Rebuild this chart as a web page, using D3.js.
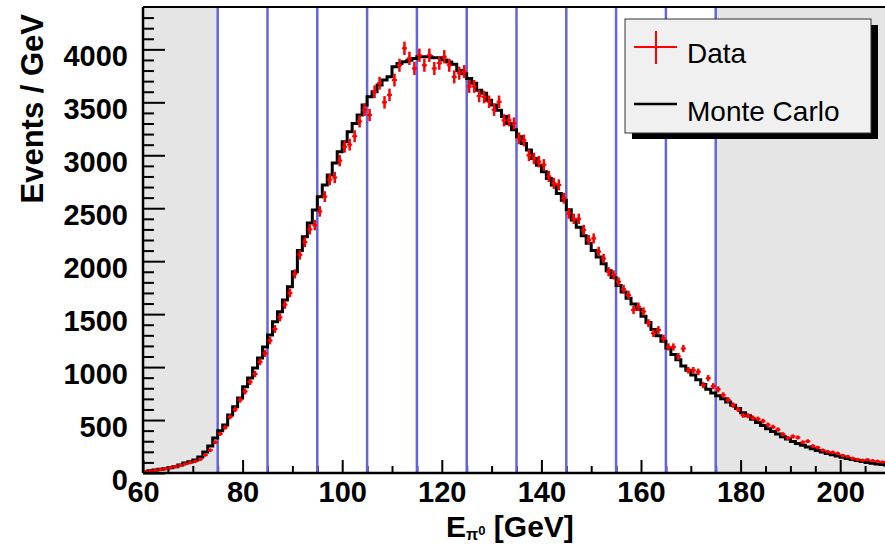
<!DOCTYPE html>
<html>
<head>
<meta charset="utf-8">
<script src="https://cdn.jsdelivr.net/npm/d3@7"></script>
<style>
  body { margin: 0; background: #fff; }
  text { font-family: "Liberation Sans", Arial, Helvetica, sans-serif; }
  .tickLabel { font-weight: bold; font-size: 29px; fill: #000; }
</style>
</head>
<body>
<div id="chart"></div>
<script>
// 1 GeV bins, first bin starts at 60 GeV
var binStart = 60;

// Monte Carlo histogram (events / GeV)
var mcValues = [
  15, 22, 28, 35, 41, 50, 60, 75, 94, 107,
  123, 151, 198, 255, 330, 400, 453, 547, 626, 708,
  815, 897, 991, 1085, 1189, 1303, 1428, 1523, 1633, 1759,
  1900, 2100, 2230, 2360, 2483, 2608, 2719, 2813, 2926, 3033,
  3127, 3222, 3301, 3380, 3474, 3552, 3600, 3663, 3710, 3741,
  3835, 3867, 3882, 3898, 3914, 3930, 3930, 3930, 3920, 3920,
  3900, 3880, 3860, 3800, 3770, 3725, 3680, 3615, 3585, 3520,
  3475, 3425, 3365, 3300, 3240, 3175, 3110, 3050, 2970, 2905,
  2845, 2780, 2720, 2640, 2575, 2485, 2390, 2320, 2240, 2170,
  2100, 2040, 1975, 1910, 1845, 1770, 1710, 1650, 1595, 1545,
  1480, 1420, 1355, 1295, 1245, 1180, 1120, 1070, 1010, 970,
  925, 880, 835, 790, 755, 730, 700, 670, 640, 610,
  570, 540, 508, 478, 448, 418, 393, 368, 343, 320,
  298, 278, 261, 245, 229, 213, 198, 184, 172, 160,
  149, 137, 127, 117, 108, 100, 93, 86, 80, 74
];

// measured data (events / GeV)
var dataValues = [
  12, 18, 25, 33, 40, 50, 60, 72, 85, 98,
  110, 130, 170, 215, 290, 370, 430, 530, 600, 690,
  770, 860, 935, 1050, 1130, 1250, 1360, 1470, 1590, 1700,
  1880, 2060, 2180, 2300, 2340, 2470, 2610, 2770, 2790, 2950,
  3080, 3100, 3180, 3320, 3430, 3380, 3600, 3680, 3500, 3570,
  3710, 3850, 4010, 3915, 3820, 3945, 3850, 3945, 3820, 3870,
  3930, 3850, 3740, 3775, 3790, 3650, 3650, 3560, 3550, 3505,
  3430, 3505, 3330, 3330, 3300, 3160, 3140, 3000, 2970, 2940,
  2910, 2800, 2735, 2720, 2595, 2450, 2400, 2400, 2295, 2200,
  2215, 2090, 2025, 1900, 1870, 1805, 1735, 1680, 1540, 1570,
  1525, 1415, 1320, 1350, 1270, 1190, 1190, 1100, 1175, 970,
  970, 955, 830, 895, 820, 790, 735, 690, 640, 600,
  545, 540, 520, 510, 490, 455, 435, 410, 365, 330,
  345, 335, 290, 300, 255, 240, 215, 200, 195, 185,
  165, 155, 138, 128, 120, 124, 115, 110, 104, 98
];

// vertical marker lines and shaded side bands (GeV)
var cutLines = [75, 85, 95, 105, 115, 125, 135, 145, 155, 165, 175];
var shadedBands = [[60, 75], [175, 210]];

var xTicks = [60, 80, 100, 120, 140, 160, 180, 200];
var yTicks = [0, 500, 1000, 1500, 2000, 2500, 3000, 3500, 4000];

var svgWidth = 885;
var svgHeight = 546;

var plot = { left: 143, top: 7, bottom: 473, right: 890 };

var svg = d3.select("#chart")
  .append("svg")
  .attr("width", svgWidth)
  .attr("height", svgHeight);

var x = d3.scaleLinear()
  .domain([60, 210])
  .range([plot.left, plot.right]);

var y = d3.scaleLinear()
  .domain([0, 4400])
  .range([plot.bottom, plot.top]);

// shaded bands
svg.selectAll(".band")
  .data(shadedBands)
  .enter()
  .append("rect")
  .attr("x", d => x(d[0]))
  .attr("y", plot.top)
  .attr("width", d => x(d[1]) - x(d[0]))
  .attr("height", plot.bottom - plot.top)
  .attr("fill", "#e5e5e5");

// x ticks (minor every 5, major every 20)
var xMinor = d3.range(65, 210, 5).filter(v => v % 20 !== 0);
svg.append("g")
  .attr("transform", `translate(0, ${plot.bottom})`)
  .call(d3.axisBottom(x).tickValues(xMinor).tickSize(-7).tickFormat(""))
  .call(g => g.select(".domain").remove())
  .selectAll("line").attr("stroke", "#000").attr("stroke-width", 2);

var xAxis = svg.append("g")
  .attr("transform", `translate(0, ${plot.bottom})`)
  .call(d3.axisBottom(x).tickValues(xTicks).tickSize(-13).tickFormat(d3.format("d")));
xAxis.select(".domain").remove();
xAxis.selectAll("line").attr("stroke", "#000").attr("stroke-width", 2);
xAxis.selectAll("text")
  .attr("class", "tickLabel")
  .attr("y", 29)
  .attr("dy", 0);

// y ticks (minor every 100, major every 500)
var yMinor = d3.range(100, 4400, 100).filter(v => v % 500 !== 0);
svg.append("g")
  .attr("transform", `translate(${plot.left}, 0)`)
  .call(d3.axisLeft(y).tickValues(yMinor).tickSize(-11).tickFormat(""))
  .call(g => g.select(".domain").remove())
  .selectAll("line").attr("stroke", "#000").attr("stroke-width", 2);

var yAxis = svg.append("g")
  .attr("transform", `translate(${plot.left}, 0)`)
  .call(d3.axisLeft(y).tickValues(yTicks).tickSize(-22).tickPadding(15).tickFormat(d3.format("d")));
yAxis.select(".domain").remove();
yAxis.selectAll("line").attr("stroke", "#000").attr("stroke-width", 2);
yAxis.selectAll("text")
  .attr("class", "tickLabel")
  .attr("dy", 16);

// blue cut lines
svg.selectAll(".cut")
  .data(cutLines)
  .enter()
  .append("line")
  .attr("x1", d => x(d))
  .attr("x2", d => x(d))
  .attr("y1", plot.top)
  .attr("y2", plot.bottom)
  .attr("stroke", "#6464dc")
  .attr("stroke-width", 2.5);

// Monte Carlo step histogram
var mcPoints = mcValues.map((v, i) => [binStart + i, v]);
mcPoints.push([binStart + mcValues.length, mcValues[mcValues.length - 1]]);

var stepLine = d3.line()
  .x(d => x(d[0]))
  .y(d => y(d[1]))
  .curve(d3.curveStepAfter);

svg.append("path")
  .datum(mcPoints)
  .attr("d", stepLine)
  .attr("fill", "none")
  .attr("stroke", "#000")
  .attr("stroke-width", 3);

// data points with error bars
var pts = svg.append("g")
  .selectAll("g")
  .data(dataValues)
  .enter()
  .append("g")
  .attr("transform", (d, i) => `translate(${x(binStart + i + 0.5)}, ${y(d)})`);

pts.append("line")
  .attr("x1", 0).attr("x2", 0)
  .attr("y1", d => y(0) - y(Math.sqrt(d)))
  .attr("y2", d => -(y(0) - y(Math.sqrt(d))))
  .attr("stroke", "#ff0000")
  .attr("stroke-width", 2.5);

pts.append("line")
  .attr("x1", -2.5).attr("x2", 2.5)
  .attr("y1", 0).attr("y2", 0)
  .attr("stroke", "#ff0000")
  .attr("stroke-width", 2);

pts.append("circle")
  .attr("r", 1.8)
  .attr("fill", "#ff0000");

// frame
svg.append("line")
  .attr("x1", plot.left).attr("x2", svgWidth)
  .attr("y1", plot.top).attr("y2", plot.top)
  .attr("stroke", "#000").attr("stroke-width", 2);
svg.append("line")
  .attr("x1", plot.left).attr("x2", plot.left)
  .attr("y1", plot.top).attr("y2", plot.bottom)
  .attr("stroke", "#000").attr("stroke-width", 2.5);
svg.append("line")
  .attr("x1", plot.left).attr("x2", svgWidth)
  .attr("y1", plot.bottom).attr("y2", plot.bottom)
  .attr("stroke", "#000").attr("stroke-width", 2.5);

// axis titles
svg.append("text")
  .attr("transform", "translate(43, 14) rotate(-90)")
  .attr("text-anchor", "end")
  .attr("font-weight", "bold")
  .attr("font-size", 31)
  .text("Events / GeV");

var xTitle = svg.append("text")
  .attr("x", 446)
  .attr("y", 537)
  .attr("font-weight", "bold")
  .attr("font-size", 30);
xTitle.append("tspan").text("E");
xTitle.append("tspan").attr("font-size", 16).attr("dy", 3).text("π");
xTitle.append("tspan").attr("font-size", 13).attr("dy", -5).text("0");
xTitle.append("tspan").attr("dy", 2).text(" [GeV]");

// legend
var legend = svg.append("g").attr("transform", "translate(625, 19)");
legend.append("rect")
  .attr("x", 7).attr("y", 6)
  .attr("width", 246).attr("height", 114)
  .attr("fill", "#000");
legend.append("rect")
  .attr("width", 246).attr("height", 114)
  .attr("fill", "#f0f0f0")
  .attr("stroke", "#333")
  .attr("stroke-width", 1);

legend.append("line")
  .attr("x1", 9).attr("x2", 52).attr("y1", 28).attr("y2", 28)
  .attr("stroke", "#ff0000").attr("stroke-width", 2);
legend.append("line")
  .attr("x1", 31).attr("x2", 31).attr("y1", 12).attr("y2", 45)
  .attr("stroke", "#ff0000").attr("stroke-width", 2);
legend.append("text")
  .attr("x", 62).attr("y", 44)
  .attr("font-size", 28)
  .text("Data");

legend.append("line")
  .attr("x1", 9).attr("x2", 52).attr("y1", 85).attr("y2", 85)
  .attr("stroke", "#000").attr("stroke-width", 2.5);
legend.append("text")
  .attr("x", 62).attr("y", 102)
  .attr("font-size", 28)
  .text("Monte Carlo");
</script>
</body>
</html>
